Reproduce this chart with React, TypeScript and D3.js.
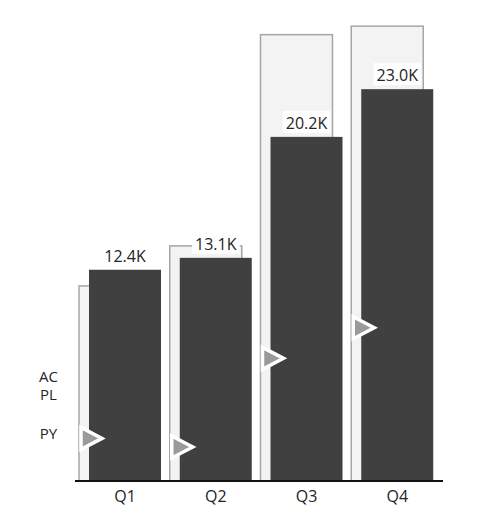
import React, { useEffect, useRef } from 'react';
import * as d3 from 'd3';

const quarters = ['Q1', 'Q2', 'Q3', 'Q4'];
const actual = [12400, 13100, 20200, 23000];
const plan = [11450, 13800, 26200, 26700];
const previousYear = [2500, 2000, 7200, 9000];

export default function App() {
  const svgRef = useRef<SVGSVGElement>(null);

  useEffect(() => {
    const w = 480;
    const h = 530;
    const baseY = 481;
    const font = '"Open Sans", "Segoe UI", sans-serif';
    const svg = d3.select(svgRef.current).attr('width', w).attr('height', h);
    svg.selectAll('*').remove();

    // scales
    const xScale = d3.scaleBand().domain(quarters).range([75, 438]).paddingInner(0);
    const yScale = d3.scaleLinear().domain([0, 28000]).range([baseY, 4]);
    const barW = 72;
    const plX = (q: string) => (xScale(q) as number) + 4;
    const acX = (q: string) => (xScale(q) as number) + 14;

    // plan bars (behind)
    svg
      .selectAll('.pl')
      .data(plan)
      .join('rect')
      .attr('x', (d, i) => plX(quarters[i]))
      .attr('y', (d) => yScale(d))
      .attr('width', barW)
      .attr('height', (d) => baseY - yScale(d))
      .attr('fill', '#f3f3f3')
      .attr('stroke', '#a6a6a6')
      .attr('stroke-width', 1.5);

    // actual bars
    svg
      .selectAll('.ac')
      .data(actual)
      .join('rect')
      .attr('x', (d, i) => acX(quarters[i]))
      .attr('y', (d) => yScale(d))
      .attr('width', barW)
      .attr('height', (d) => baseY - yScale(d))
      .attr('fill', '#404040');

    // previous year markers
    svg
      .selectAll('.py')
      .data(previousYear)
      .join('path')
      .attr('d', (d, i) => {
        const x0 = plX(quarters[i]) + 2;
        const y0 = yScale(d);
        return `M${x0},${y0 - 11}L${x0 + 21},${y0}L${x0},${y0 + 11}Z`;
      })
      .attr('fill', '#9a9a9a')
      .attr('stroke', '#ffffff')
      .attr('stroke-width', 3.5)
      .attr('stroke-linejoin', 'miter');

    // value labels with white backing
    const labels = svg
      .selectAll('.lbl')
      .data(actual)
      .join('g')
      .attr('transform', (d, i) => `translate(${acX(quarters[i]) + barW / 2},${yScale(d) - 8})`);
    const texts = labels
      .append('text')
      .attr('text-anchor', 'middle')
      .style('font-family', font)
      .style('font-size', '16px')
      .attr('fill', '#252423')
      .text((d) => (d / 1000).toFixed(1) + 'K');
    texts.each(function () {
      const bb = (this as SVGTextElement).getBBox();
      d3.select((this as SVGTextElement).parentNode as SVGGElement)
        .insert('rect', 'text')
        .attr('x', bb.x - 3)
        .attr('y', -18)
        .attr('width', bb.width + 6)
        .attr('height', 22)
        .attr('fill', '#ffffff');
    });

    // baseline + category axis
    svg
      .append('line')
      .attr('x1', 75)
      .attr('x2', 443)
      .attr('y1', baseY)
      .attr('y2', baseY)
      .attr('stroke', '#111')
      .attr('stroke-width', 2);
    svg
      .selectAll('.cat')
      .data(quarters)
      .join('text')
      .attr('x', (q) => acX(q) + barW / 2)
      .attr('y', baseY + 21)
      .attr('text-anchor', 'middle')
      .style('font-family', font)
      .style('font-size', '16px')
      .attr('fill', '#252423')
      .text((q) => q);

    // legend labels on first category
    const acMid = (yScale(actual[0]) + baseY) / 2;
    const legend = [
      { name: 'AC', y: acMid + 7 },
      { name: 'PL', y: acMid + 25 },
      { name: 'PY', y: yScale(previousYear[0]) + 1 },
    ];
    svg
      .selectAll('.leg')
      .data(legend)
      .join('text')
      .attr('x', 48.5)
      .attr('y', (d) => d.y)
      .attr('text-anchor', 'middle')
      .style('font-family', font)
      .style('font-size', '15px')
      .attr('fill', '#252423')
      .text((d) => d.name);
  }, []);

  return (
    <svg ref={svgRef} style={{ position: 'absolute', left: 0, top: 0, background: '#fff' }}></svg>
  );
}
